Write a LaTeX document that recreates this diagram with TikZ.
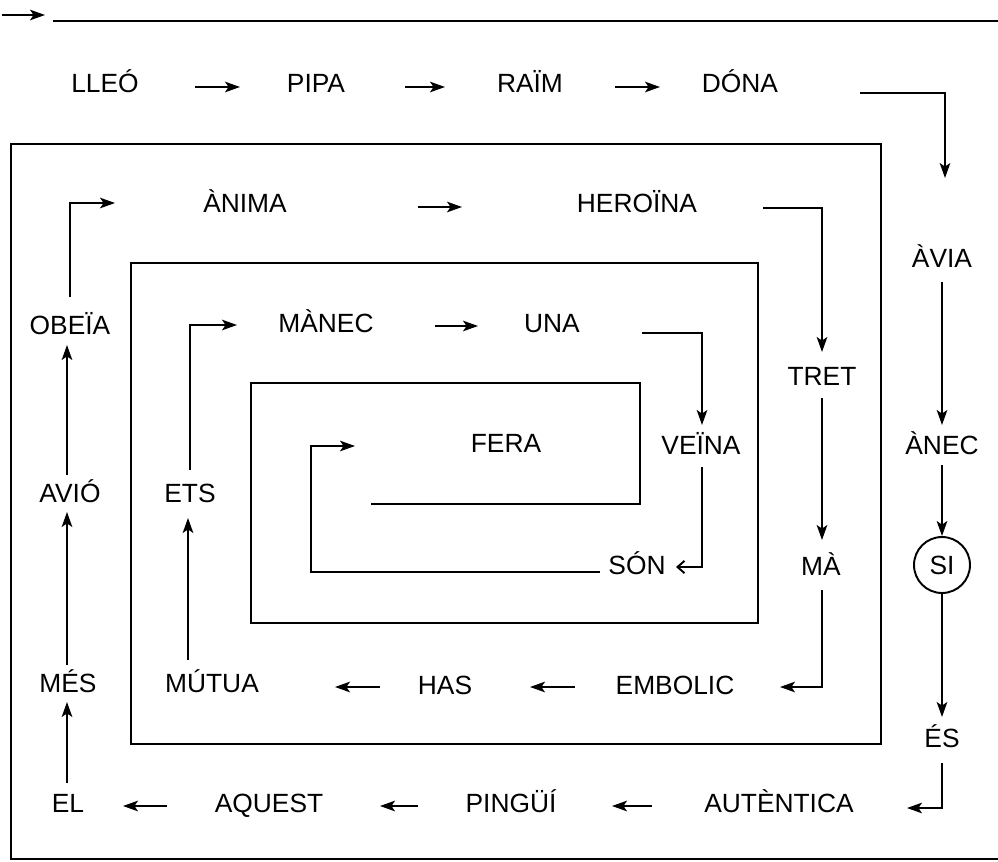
\documentclass[tikz,border=0pt]{standalone}
\usepackage{fontspec}
\setmainfont{Liberation Sans}
\usetikzlibrary{arrows.meta,calc}
\begin{document}
\begin{tikzpicture}[x=0.02cm,y=0.02cm,
  word/.style={font=\fontsize{15}{18}\selectfont, inner sep=0pt, text height=10.8pt, text depth=0pt},
  arr/.style={-{Stealth[length=8.5pt,width=6pt,inset=2pt]}, line width=1.1pt},
  openarr/.style={-{Straight Barb[length=4pt,width=7pt]}, line width=1.1pt},
  wall/.style={line width=1.1pt}]
\useasboundingbox (0,0) rectangle (998,-862);

% top line and arrow
\draw[arr] (2,-15) -- (45,-15);
\draw[wall] (53,-21) -- (998,-21);

% spiral walls
\draw[wall] (998,-859) -- (11,-859) -- (11,-144) -- (881,-144) -- (881,-744)
  -- (131,-744) -- (131,-263) -- (758,-263) -- (758,-623) -- (251,-623)
  -- (251,-383) -- (640,-383) -- (640,-504) -- (371,-504);

% words
\node[word] (lleo) at (105,-83) {LLEÓ};
\node[word] (pipa) at (316,-83) {PIPA};
\node[word] (raim) at (530,-83) {RAÏM};
\node[word] (dona) at (740,-83) {DÓNA};
\node[word] (avia) at (942,-258) {ÀVIA};
\node[word] (anec) at (942,-445) {ÀNEC};
\node[word, draw, circle, minimum size=1.12cm, line width=1.1pt] (si) at (942,-565) {SI};
\node[word] (es) at (942,-738) {ÉS};
\node[word] (autentica) at (779,-803) {AUTÈNTICA};
\node[word] (pingui) at (511,-803) {PINGÜÍ};
\node[word] (aquest) at (269,-803) {AQUEST};
\node[word] (el) at (68,-803) {EL};
\node[word] (mes) at (68,-683) {MÉS};
\node[word] (avio) at (70,-493) {AVIÓ};
\node[word] (obeia) at (70,-325) {OBEÏA};
\node[word] (anima) at (245,-203) {ÀNIMA};
\node[word] (heroina) at (637,-203) {HEROÏNA};
\node[word] (tret) at (822,-376) {TRET};
\node[word] (ma) at (821,-566) {MÀ};
\node[word] (embolic) at (675,-685) {EMBOLIC};
\node[word] (has) at (445,-685) {HAS};
\node[word] (mutua) at (212,-683) {MÚTUA};
\node[word] (ets) at (190,-493) {ETS};
\node[word] (manec) at (326,-323) {MÀNEC};
\node[word] (una) at (552,-323) {UNA};
\node[word] (veina) at (701,-445) {VEÏNA};
\node[word] (son) at (637,-565) {SÓN};
\node[word] (fera) at (506,-443) {FERA};

% connectors
\draw[arr] ($(lleo)+(90,-4)$) -- ($(pipa)+(-76,-4)$);
\draw[arr] ($(pipa)+(89,-4)$) -- ($(raim)+(-85,-4)$);
\draw[arr] ($(raim)+(85,-4)$) -- ($(dona)+(-80,-4)$);
\draw[arr] ($(dona)+(120,-10)$) -| ($(avia)+(3,80)$);
\draw[arr] ($(avia)+(0,-24)$) -- ($(anec)+(0,20)$);
\draw[arr] ($(anec)+(0,-20)$) -- (si);
\draw[arr] (si) -- ($(es)+(0,21)$);
\draw[arr] ($(es)+(0,-25)$) |- ($(autentica)+(128,-5)$);
\draw[arr] ($(autentica)+(-127,-3)$) -- ($(pingui)+(101,-3)$);
\draw[arr] ($(pingui)+(-93,-3)$) -- ($(aquest)+(111,-3)$);
\draw[arr] ($(aquest)+(-102,-3)$) -- ($(el)+(55,-3)$);
\draw[arr] ($(el)+(-1,20)$) -- ($(mes)+(-1,-19)$);
\draw[arr] ($(mes)+(-1,18)$) -- ($(avio)+(-3,-19)$);
\draw[arr] ($(avio)+(-3,18)$) -- ($(obeia)+(-3,-20)$);
\draw[arr] ($(obeia)+(0,28)$) |- ($(anima)+(-130,0)$);
\draw[arr] ($(anima)+(173,-4)$) -- ($(heroina)+(-175,-4)$);
\draw[arr] ($(heroina)+(126,-5)$) -| ($(tret)+(0,24)$);
\draw[arr] ($(tret)+(0,-22)$) -- ($(ma)+(1,26)$);
\draw[arr] ($(ma)+(1,-24)$) |- ($(embolic)+(105,-2)$);
\draw[arr] ($(embolic)+(-100,-2)$) -- ($(has)+(85,-2)$);
\draw[arr] ($(has)+(-65,-2)$) -- ($(mutua)+(123,-4)$);
\draw[arr] ($(mutua)+(-24,23)$) -- ($(ets)+(-2,-25)$);
\draw[arr] ($(ets)+(0,23)$) |- ($(manec)+(-89,-2)$);
\draw[arr] ($(manec)+(109,-3)$) -- ($(una)+(-74,-3)$);
\draw[arr] ($(una)+(90,-10)$) -| ($(veina)+(1,20)$);
\draw[openarr] ($(veina)+(1,-22)$) |- ($(son)+(39,-2)$);
\draw[arr] ($(son)+(-37,-7)$) -| ($(fera)+(-195,-3)$) -- ($(fera)+(-151,-3)$);
\end{tikzpicture}
\end{document}
